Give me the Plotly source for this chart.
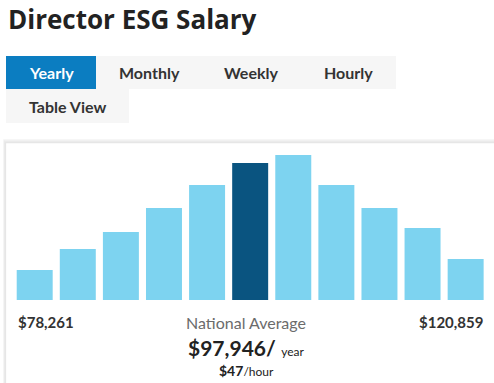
import plotly.graph_objects as go

# Data
bins = list(range(11))
counts = [30, 51, 68, 92, 115, 137, 145, 115, 92, 72, 41]
highlight_index = 5
title_text = "Director ESG Salary"
tabs = ["Yearly", "Monthly", "Weekly", "Hourly"]
low_label = "$78,261"
high_label = "$120,859"
avg_label = "National Average"
avg_year = "$97,946/"
avg_hour = "$47"

W, H = 494, 383
LIGHT = "#7dd3f0"
DARK = "#0a5480"
colors = [DARK if i == highlight_index else LIGHT for i in bins]

def px(x):
    return x / W

def py(y):
    return 1 - y / H

fig = go.Figure()
fig.add_trace(go.Bar(x=bins, y=counts, marker=dict(color=colors, line=dict(width=0)),
                     hoverinfo="skip"))

shapes = []
# card with soft shadow
for i, c in enumerate(["#f3f3f3", "#ececec", "#e6e6e6"]):
    shapes.append(dict(type="rect", xref="paper", yref="paper",
                       x0=px(4 + i * 0.7), x1=px(500), y0=py(400), y1=py(140 + i * 1.2),
                       line=dict(color=c, width=1.5), fillcolor="white", layer="below"))
# tabs
shapes.append(dict(type="rect", xref="paper", yref="paper", x0=px(6), x1=px(396),
                   y0=py(89), y1=py(56), line=dict(width=0), fillcolor="#f6f6f6", layer="below"))
shapes.append(dict(type="rect", xref="paper", yref="paper", x0=px(6), x1=px(129),
                   y0=py(123), y1=py(89), line=dict(width=0), fillcolor="#f6f6f6", layer="below"))
shapes.append(dict(type="rect", xref="paper", yref="paper", x0=px(6), x1=px(96),
                   y0=py(89), y1=py(56), line=dict(width=0), fillcolor="#0b7dc1", layer="below"))

FONT = "Lato"
ann = []
ann.append(dict(text="<b>" + title_text + "</b>", x=px(6), y=py(19), xanchor="left", yanchor="middle",
                font=dict(family="Open Sans", size=26, color="#222222")))
tab_x = [51, 149, 251, 348]
for t, xx in zip(tabs, tab_x):
    ann.append(dict(text="<b>" + t + "</b>", x=px(xx), y=py(73), xanchor="center", yanchor="middle",
                    font=dict(family=FONT, size=16, color="white" if t == "Yearly" else "#333333")))
ann.append(dict(text="<b>Table View</b>", x=px(67), y=py(106), xanchor="center", yanchor="middle",
                font=dict(family=FONT, size=16, color="#333333")))
ann.append(dict(text="<b>" + low_label + "</b>", x=px(16), y=py(322), xanchor="left", yanchor="middle",
                font=dict(family=FONT, size=15, color="#333333")))
ann.append(dict(text="<b>" + high_label + "</b>", x=px(485), y=py(322), xanchor="right", yanchor="middle",
                font=dict(family=FONT, size=15, color="#333333")))
ann.append(dict(text=avg_label, x=px(246), y=py(322), xanchor="center", yanchor="middle",
                font=dict(family=FONT, size=16, color="#6b6b6b")))
ann.append(dict(text="<b>" + avg_year + "</b> <span style='font-size:12px'>year</span>",
                x=px(246), y=py(347), xanchor="center", yanchor="middle",
                font=dict(family=FONT, size=21, color="#222222")))
ann.append(dict(text="<b>" + avg_hour + "</b><span style='font-size:12px'>/hour</span>",
                x=px(246), y=py(370), xanchor="center", yanchor="middle",
                font=dict(family=FONT, size=14, color="#222222")))
for a in ann:
    a.update(xref="paper", yref="paper", showarrow=False)

fig.update_layout(
    width=W, height=H, margin=dict(l=0, r=0, t=0, b=0),
    paper_bgcolor="white", plot_bgcolor="rgba(0,0,0,0)",
    showlegend=False, bargap=0.165,
    shapes=shapes, annotations=ann,
    xaxis=dict(domain=[px(13.15), px(487.2)], range=[-0.5, 10.5], visible=False, fixedrange=True),
    yaxis=dict(domain=[py(300), py(150)], range=[0, 150], visible=False, fixedrange=True),
)
fig.write_html("out.html", config={"displayModeBar": False},
               post_script="document.body.style.margin='0';document.body.style.overflow='hidden';")
